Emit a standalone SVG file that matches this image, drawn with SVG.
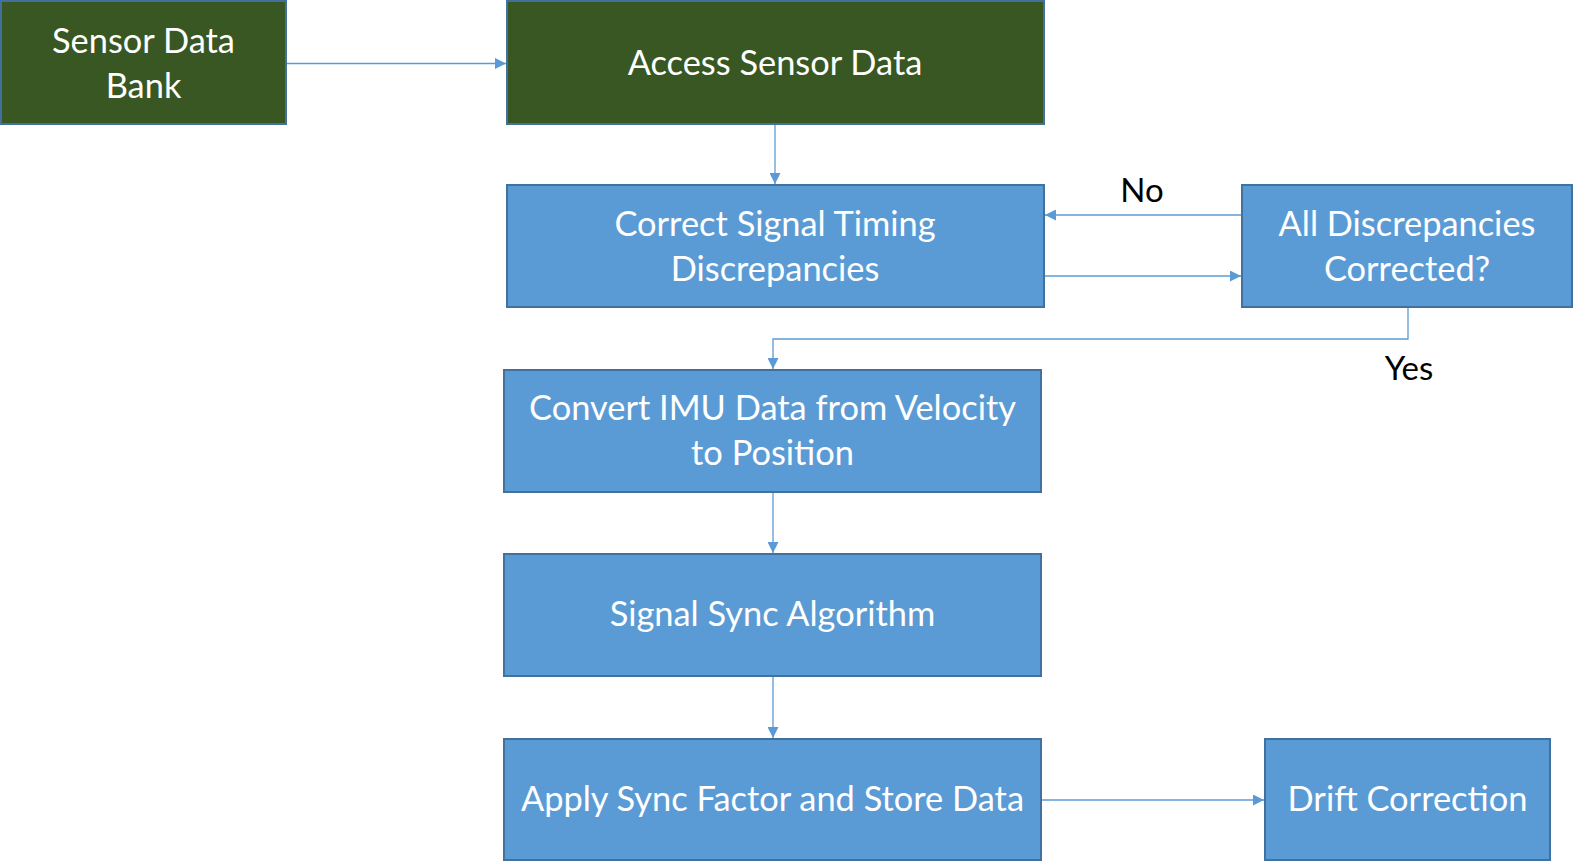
<svg xmlns="http://www.w3.org/2000/svg" width="1574" height="861" viewBox="0 0 1574 861">
<style>
.g{fill:#385723;stroke:#41719C;stroke-width:2}
.b{fill:#5B9BD5;stroke:#41719C;stroke-width:2}
.t{font-family:Lato,"Open Sans",sans-serif;font-size:34.4px;fill:#FFFFFF;text-anchor:middle}
.l{font-family:Lato,"Open Sans",sans-serif;font-size:33px;fill:#000000;text-anchor:middle}
.c{fill:none;stroke:#5B9BD5;stroke-width:1.3}
</style>
<defs>
<marker id="a" viewBox="0 0 10 10" refX="10" refY="5" markerWidth="11" markerHeight="11" markerUnits="userSpaceOnUse" orient="auto">
<path d="M0,0 L10,5 L0,10 z" fill="#5B9BD5"/>
</marker>
</defs>
<g id="connectors">
<path class="c" d="M286,63.5 H506" marker-end="url(#a)"/>
<path class="c" d="M775,125 V184" marker-end="url(#a)"/>
<path class="c" d="M1241,215 H1045" marker-end="url(#a)"/>
<path class="c" d="M1044,276 H1241" marker-end="url(#a)"/>
<path class="c" d="M1408,308 V339 H773 V369" marker-end="url(#a)"/>
<path class="c" d="M773,492 V553" marker-end="url(#a)"/>
<path class="c" d="M773,676 V738" marker-end="url(#a)"/>
<path class="c" d="M1042,800 H1264" marker-end="url(#a)"/>
</g>
<g id="sensor-data-bank">
<rect class="g" x="1" y="1" width="285" height="123"/>
<text class="t" x="143.5" y="53">Sensor Data</text>
<text class="t" x="143.5" y="98">Bank</text>
</g>
<g id="access-sensor-data">
<rect class="g" x="507" y="1" width="537" height="123"/>
<text class="t" x="775" y="75">Access Sensor Data</text>
</g>
<g id="correct-signal-timing">
<rect class="b" x="507" y="185" width="537" height="122"/>
<text class="t" x="775" y="236">Correct Signal Timing</text>
<text class="t" x="775" y="281">Discrepancies</text>
</g>
<g id="all-discrepancies">
<rect class="b" x="1242" y="185" width="330" height="122"/>
<text class="t" x="1407" y="236">All Discrepancies</text>
<text class="t" x="1407" y="281">Corrected?</text>
</g>
<g id="convert-imu">
<rect class="b" x="504" y="370" width="537" height="122"/>
<text class="t" x="772.5" y="420">Convert IMU Data from Velocity</text>
<text class="t" x="772.5" y="465">to Position</text>
</g>
<g id="signal-sync">
<rect class="b" x="504" y="554" width="537" height="122"/>
<text class="t" x="772.5" y="626">Signal Sync Algorithm</text>
</g>
<g id="apply-sync">
<rect class="b" x="504" y="739" width="537" height="121"/>
<text class="t" x="772.5" y="811">Apply Sync Factor and Store Data</text>
</g>
<g id="drift-correction">
<rect class="b" x="1265" y="739" width="285" height="121"/>
<text class="t" x="1407.5" y="811">Drift Correction</text>
</g>
<g id="labels">
<text class="l" x="1142" y="202">No</text>
<text class="l" x="1409" y="380">Yes</text>
</g>
</svg>
